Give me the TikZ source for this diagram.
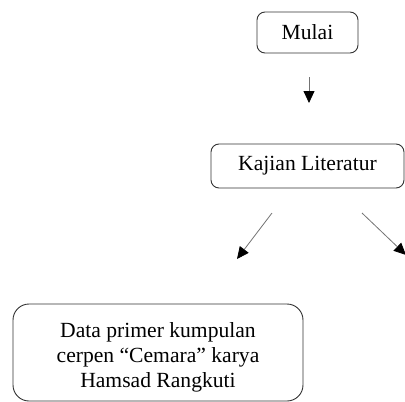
\documentclass[tikz,border=0pt]{standalone}
\usepackage{fontspec}
\setmainfont{Liberation Serif}
\usetikzlibrary{arrows.meta}
\begin{document}
\begin{tikzpicture}[x=1pt,y=1pt,
  box/.style={draw=black!80, line width=0.9pt, rounded corners=#1, inner sep=0pt},
  box/.default=8pt,
  lbl/.style={font=\fontsize{21.6}{25}\selectfont, align=center, inner sep=0pt},
  conn/.style={draw=black!55, line width=0.8pt, -{Triangle[length=12pt,width=11pt,color=black]}}]
\useasboundingbox (0,0) rectangle (405,-402);
\clip (0,0) rectangle (405,-402);
\node[box, minimum width=101pt, minimum height=41pt] (mulai) at (307.5,-32.5) {};
\node[lbl] (mulaiT) at (307.5,-32.5) {Mulai};
\node[box, minimum width=193pt, minimum height=44pt] (kajian) at (307.5,-166) {};
\node[lbl] (kajianT) at (307.5,-166) {Kajian Literatur};
\node[box=16pt, minimum width=290pt, minimum height=97pt] (data) at (158,-352.5) {};
\node[lbl] (dataT) at (158,-357) {Data primer kumpulan\\cerpen “Cemara” karya\\Hamsad Rangkuti};
\coordinate (a1s) at (309,-77);
\coordinate (a1e) at (309,-103);
\coordinate (a2s) at (272,-213);
\coordinate (a2e) at (237,-259);
\coordinate (a3s) at (362,-213);
\coordinate (a3e) at (406,-255);
\draw[conn] (a1s) -- (a1e);
\draw[conn] (a2s) -- (a2e);
\draw[conn] (a3s) -- (a3e);
\end{tikzpicture}
\end{document}
